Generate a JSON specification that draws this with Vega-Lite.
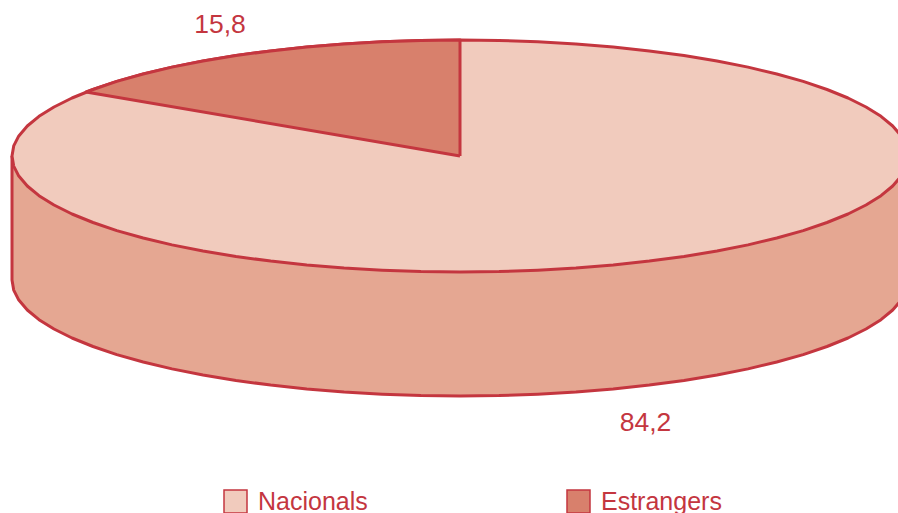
{"$schema":"https://vega.github.io/schema/vega-lite/v6.json","width":898,"height":513,"padding":0,"autosize":{"type":"none"},"background":"white","view":{"stroke":null},
"datasets":{
"side":[{"i":0,"x":12,"y":156},{"i":1,"x":12,"y":280},{"i":2,"x":13.7,"y":290.1},{"i":3,"x":18.8,"y":300.1},{"i":4,"x":27.3,"y":310},{"i":5,"x":39,"y":319.7},{"i":6,"x":54,"y":329},{"i":7,"x":72,"y":338},{"i":8,"x":93,"y":346.5},{"i":9,"x":116.8,"y":354.6},{"i":10,"x":143.2,"y":362},{"i":11,"x":172,"y":368.9},{"i":12,"x":203,"y":375},{"i":13,"x":236,"y":380.5},{"i":14,"x":270.7,"y":385.1},{"i":15,"x":306.8,"y":389},{"i":16,"x":344.1,"y":392},{"i":17,"x":382.2,"y":394.2},{"i":18,"x":421,"y":395.6},{"i":19,"x":460,"y":396},{"i":20,"x":499,"y":395.6},{"i":21,"x":537.8,"y":394.2},{"i":22,"x":575.9,"y":392},{"i":23,"x":613.2,"y":389},{"i":24,"x":649.3,"y":385.1},{"i":25,"x":684,"y":380.5},{"i":26,"x":717,"y":375},{"i":27,"x":748,"y":368.9},{"i":28,"x":776.8,"y":362},{"i":29,"x":803.2,"y":354.6},{"i":30,"x":827,"y":346.5},{"i":31,"x":848,"y":338},{"i":32,"x":866,"y":329},{"i":33,"x":881,"y":319.7},{"i":34,"x":892.7,"y":310},{"i":35,"x":901.2,"y":300.1},{"i":36,"x":906.3,"y":290.1},{"i":37,"x":908,"y":280},{"i":38,"x":908,"y":156}],
"top":[{"i":0,"x":460,"y":40},{"i":1,"x":499,"y":40.4},{"i":2,"x":537.8,"y":41.8},{"i":3,"x":575.9,"y":44},{"i":4,"x":613.2,"y":47},{"i":5,"x":649.3,"y":50.9},{"i":6,"x":684,"y":55.5},{"i":7,"x":717,"y":61},{"i":8,"x":748,"y":67.1},{"i":9,"x":776.8,"y":74},{"i":10,"x":803.2,"y":81.4},{"i":11,"x":827,"y":89.5},{"i":12,"x":848,"y":98},{"i":13,"x":866,"y":107},{"i":14,"x":881,"y":116.3},{"i":15,"x":892.7,"y":126},{"i":16,"x":901.2,"y":135.9},{"i":17,"x":906.3,"y":145.9},{"i":18,"x":908,"y":156},{"i":19,"x":906.3,"y":166.1},{"i":20,"x":901.2,"y":176.1},{"i":21,"x":892.7,"y":186},{"i":22,"x":881,"y":195.7},{"i":23,"x":866,"y":205},{"i":24,"x":848,"y":214},{"i":25,"x":827,"y":222.5},{"i":26,"x":803.2,"y":230.6},{"i":27,"x":776.8,"y":238},{"i":28,"x":748,"y":244.9},{"i":29,"x":717,"y":251},{"i":30,"x":684,"y":256.5},{"i":31,"x":649.3,"y":261.1},{"i":32,"x":613.2,"y":265},{"i":33,"x":575.9,"y":268},{"i":34,"x":537.8,"y":270.2},{"i":35,"x":499,"y":271.6},{"i":36,"x":460,"y":272},{"i":37,"x":421,"y":271.6},{"i":38,"x":382.2,"y":270.2},{"i":39,"x":344.1,"y":268},{"i":40,"x":306.8,"y":265},{"i":41,"x":270.7,"y":261.1},{"i":42,"x":236,"y":256.5},{"i":43,"x":203,"y":251},{"i":44,"x":172,"y":244.9},{"i":45,"x":143.2,"y":238},{"i":46,"x":116.8,"y":230.6},{"i":47,"x":93,"y":222.5},{"i":48,"x":72,"y":214},{"i":49,"x":54,"y":205},{"i":50,"x":39,"y":195.7},{"i":51,"x":27.3,"y":186},{"i":52,"x":18.8,"y":176.1},{"i":53,"x":13.7,"y":166.1},{"i":54,"x":12,"y":156},{"i":55,"x":13.7,"y":145.9},{"i":56,"x":18.8,"y":135.9},{"i":57,"x":27.3,"y":126},{"i":58,"x":39,"y":116.3},{"i":59,"x":54,"y":107},{"i":60,"x":72,"y":98},{"i":61,"x":93,"y":89.5},{"i":62,"x":116.8,"y":81.4},{"i":63,"x":143.2,"y":74},{"i":64,"x":172,"y":67.1},{"i":65,"x":203,"y":61},{"i":66,"x":236,"y":55.5},{"i":67,"x":270.7,"y":50.9},{"i":68,"x":306.8,"y":47},{"i":69,"x":344.1,"y":44},{"i":70,"x":382.2,"y":41.8},{"i":71,"x":421,"y":40.4},{"i":72,"x":460,"y":40}],
"wedge":[{"i":0,"x":460,"y":156},{"i":1,"x":86,"y":92},{"i":2,"x":93,"y":89.5},{"i":3,"x":116.8,"y":81.4},{"i":4,"x":143.2,"y":74},{"i":5,"x":172,"y":67.1},{"i":6,"x":203,"y":61},{"i":7,"x":236,"y":55.5},{"i":8,"x":270.7,"y":50.9},{"i":9,"x":306.8,"y":47},{"i":10,"x":344.1,"y":44},{"i":11,"x":382.2,"y":41.8},{"i":12,"x":421,"y":40.4},{"i":13,"x":460,"y":40},{"i":14,"x":460,"y":156}],
"shares":[{"grup":"Nacionals","valor":84.2,"etiqueta":"84,2","x":645.5,"y":423},{"grup":"Estrangers","valor":15.8,"etiqueta":"15,8","x":220,"y":25}]},
"encoding":{
"x":{"field":"x","type":"quantitative","scale":{"domain":[0,898],"nice":false,"zero":false},"axis":null},
"y":{"field":"y","type":"quantitative","scale":{"domain":[513,0],"nice":false,"zero":false},"axis":null}},
"layer":[
{"data":{"name":"side"},"mark":{"type":"line","fill":"#e5a792","stroke":"#c4363f","strokeWidth":3,"strokeJoin":"round","clip":true},"encoding":{"order":{"field":"i","type":"quantitative"}}},
{"data":{"name":"top"},"mark":{"type":"line","fill":"#f1cbbd","stroke":"#c4363f","strokeWidth":3,"strokeJoin":"round","clip":true},"encoding":{"order":{"field":"i","type":"quantitative"}}},
{"data":{"name":"wedge"},"mark":{"type":"line","fill":"#d8806c","stroke":"#c4363f","strokeWidth":3,"strokeJoin":"round","clip":true},"encoding":{"order":{"field":"i","type":"quantitative"}}},
{"data":{"name":"shares"},"mark":{"type":"text","font":"Liberation Sans","fontSize":26.5,"fill":"#c4363f","align":"center","baseline":"middle"},"encoding":{"text":{"field":"etiqueta","type":"nominal"}}},
{"data":{"name":"shares"},"mark":{"type":"square","opacity":0,"size":1},"encoding":{
"fill":{"field":"grup","type":"nominal","scale":{"domain":["Nacionals","Estrangers"],"range":["#f1cbbd","#d8806c"]},
"legend":{"title":null,"orient":"none","legendX":223,"legendY":489,"direction":"horizontal","columns":2,"symbolType":"square","symbolSize":529,"symbolOpacity":1,"symbolStrokeColor":"#c4363f","symbolStrokeWidth":1.5,"labelFont":"Liberation Sans","labelFontSize":25,"labelColor":"#c4363f","labelOffset":10,"columnPadding":196,"gridAlign":"each","labelLimit":200,"padding":0,"offset":0}}}}
]}
